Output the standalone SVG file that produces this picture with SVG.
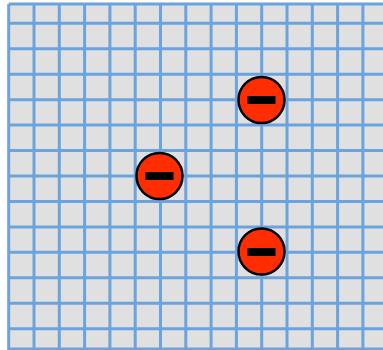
<svg xmlns="http://www.w3.org/2000/svg" width="383" height="350" viewBox="0 0 383 350">
<defs>
<style>
.grid line{stroke:#6aa3dd;stroke-width:3}
.sign circle{fill:#ff2d00;stroke:#000;stroke-width:2.5}
.sign rect{fill:#000}
</style>
</defs>
<rect x="0" y="0" width="383" height="350" fill="#fff"/>
<rect x="8.7" y="4" width="374.3" height="346" fill="#e0e0e0"/>
<g class="grid" id="grid">
<line x1="8.7" y1="4" x2="383" y2="4"/>
<line x1="8.7" y1="23.3" x2="383" y2="23.3"/>
<line x1="8.7" y1="48.75" x2="383" y2="48.75"/>
<line x1="8.7" y1="74.2" x2="383" y2="74.2"/>
<line x1="8.7" y1="99.65" x2="383" y2="99.65"/>
<line x1="8.7" y1="125.1" x2="383" y2="125.1"/>
<line x1="8.7" y1="150.55" x2="383" y2="150.55"/>
<line x1="8.7" y1="176" x2="383" y2="176"/>
<line x1="8.7" y1="201.45" x2="383" y2="201.45"/>
<line x1="8.7" y1="226.9" x2="383" y2="226.9"/>
<line x1="8.7" y1="252.35" x2="383" y2="252.35"/>
<line x1="8.7" y1="277.8" x2="383" y2="277.8"/>
<line x1="8.7" y1="303.25" x2="383" y2="303.25"/>
<line x1="8.7" y1="328.7" x2="383" y2="328.7"/>
<line x1="8.7" y1="349" x2="383" y2="349"/>
<line x1="8.7" y1="4" x2="8.7" y2="350"/>
<line x1="34" y1="4" x2="34" y2="350"/>
<line x1="59.3" y1="4" x2="59.3" y2="350"/>
<line x1="84.6" y1="4" x2="84.6" y2="350"/>
<line x1="109.9" y1="4" x2="109.9" y2="350"/>
<line x1="135.2" y1="4" x2="135.2" y2="350"/>
<line x1="160.5" y1="4" x2="160.5" y2="350"/>
<line x1="185.8" y1="4" x2="185.8" y2="350"/>
<line x1="211.1" y1="4" x2="211.1" y2="350"/>
<line x1="236.4" y1="4" x2="236.4" y2="350"/>
<line x1="261.7" y1="4" x2="261.7" y2="350"/>
<line x1="287" y1="4" x2="287" y2="350"/>
<line x1="312.3" y1="4" x2="312.3" y2="350"/>
<line x1="337.6" y1="4" x2="337.6" y2="350"/>
<line x1="362.9" y1="4" x2="362.9" y2="350"/>
</g>
<g class="sign" id="sign1">
<circle cx="261.5" cy="100" r="23"/>
<rect x="247.5" y="96" width="28" height="8"/>
</g>
<g class="sign" id="sign2">
<circle cx="159.5" cy="176" r="23"/>
<rect x="145.5" y="172" width="28" height="8"/>
</g>
<g class="sign" id="sign3">
<circle cx="261.5" cy="251.5" r="23"/>
<rect x="247.5" y="248" width="28" height="8"/>
</g>
</svg>
